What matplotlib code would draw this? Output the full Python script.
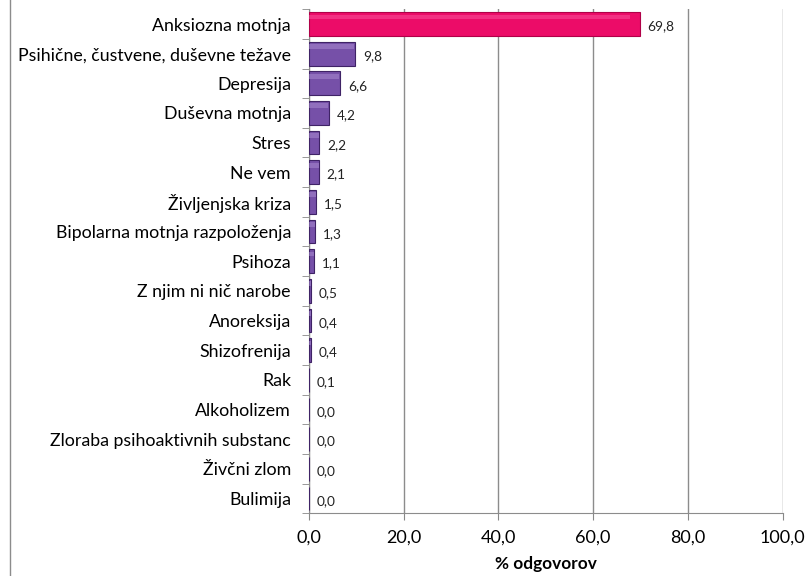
import numpy as np
from matplotlib import pyplot as plt
from matplotlib.lines import Line2D

plt.rcParams['font.family'] = ['Lato', 'DejaVu Sans']

categories = ['Anksiozna motnja', 'Psihične, čustvene, duševne težave', 'Depresija',
              'Duševna motnja', 'Stres', 'Ne vem', 'Življenjska kriza',
              'Bipolarna motnja razpoloženja', 'Psihoza', 'Z njim ni nič narobe',
              'Anoreksija', 'Shizofrenija', 'Rak', 'Alkoholizem',
              'Zloraba psihoaktivnih substanc', 'Živčni zlom', 'Bulimija']
values = [69.8, 9.8, 6.6, 4.2, 2.2, 2.1, 1.5, 1.3, 1.1, 0.5, 0.4, 0.4, 0.1, 0.0, 0.0, 0.0, 0.0]
xticks = [0, 20, 40, 60, 80, 100]


def fmt(v):
    return f'{v:.1f}'.replace('.', ',')


fig = plt.figure(figsize=(8.11, 5.76), dpi=100)
ax = fig.add_axes([0.381, 0.109, 0.584, 0.875])

y = np.arange(len(categories))
vals = np.array(values)
colors = ['#EC0C68'] + ['#7650A8'] * (len(values) - 1)
edges = ['#B00048'] + ['#3F2366'] * (len(values) - 1)
light = ['#F7509A'] + ['#A88AD0'] * (len(values) - 1)

h = 0.8
ax.barh(y, vals, height=h, color=colors, edgecolor=edges, linewidth=0.8, zorder=3)
# bevel highlight on the upper part of each bar
ax.barh(y - h * 0.3, vals * 0.97, height=h * 0.2, color=light, linewidth=0,
        alpha=0.55, zorder=4)

for yi, v in zip(y, values):
    ax.text(v + 1.6, yi + 0.08, fmt(v), va='center', ha='left', fontsize=9.8,
            color='#222222')

ax.set_ylim(len(categories) - 0.5, -0.5)
ax.set_xlim(0, 100)
ax.set_yticks(y)
ax.set_yticklabels(categories, fontsize=12.8)
ax.set_yticks(np.arange(len(categories) + 1) - 0.5, minor=True)
ax.tick_params(axis='y', which='major', length=0, pad=13)
ax.tick_params(axis='y', which='minor', length=5, color='#888888')
ax.set_xticks(xticks)
ax.set_xticklabels([fmt(t) for t in xticks], fontsize=13)
ax.tick_params(axis='x', length=5, color='#888888', pad=7)
ax.set_xlabel('% odgovorov', fontsize=12.4, fontweight='bold', labelpad=7)

ax.grid(axis='x', color='#8C8C8C', linewidth=1, zorder=0)
ax.set_axisbelow(True)
for s in ['top', 'right']:
    ax.spines[s].set_visible(False)
for s in ['left', 'bottom']:
    ax.spines[s].set_color('#8C8C8C')

fig.add_artist(Line2D([0.0123, 0.0123], [0, 1], color='#8C8C8C', linewidth=1,
                      transform=fig.transFigure))

plt.savefig('out.png', dpi=100)
